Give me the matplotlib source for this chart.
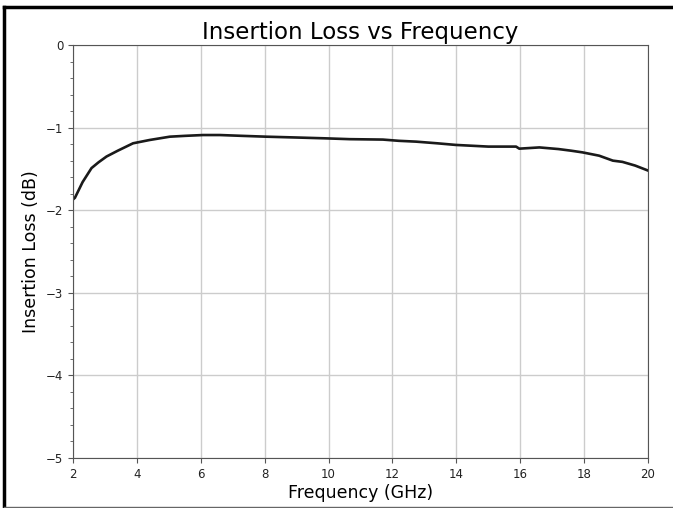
import numpy as np
import matplotlib
matplotlib.use("Agg")
import matplotlib.pyplot as plt
from matplotlib.ticker import MultipleLocator
from matplotlib.lines import Line2D

# values
freq_ghz = [2.0, 2.06, 2.3, 2.58, 2.8, 3.05, 3.4, 3.88, 4.4, 5.03, 5.5, 6.07, 6.6,
            7.3, 8.05, 9.0, 9.9, 10.66, 11.7, 12.2, 12.74, 13.4, 13.99, 14.5,
            15.0, 15.87, 15.97, 16.6, 17.2, 17.6, 17.95, 18.47, 18.9, 19.2,
            19.6, 20.0]
loss_db = [-1.87, -1.85, -1.66, -1.49, -1.42, -1.35, -1.28, -1.19, -1.15, -1.11,
           -1.10, -1.09, -1.09, -1.10, -1.11, -1.12, -1.13, -1.14, -1.145, -1.16,
           -1.17, -1.19, -1.21, -1.22, -1.23, -1.23, -1.255, -1.24, -1.26, -1.28,
           -1.30, -1.34, -1.40, -1.415, -1.46, -1.52]

W, H = 673, 508
fig = plt.figure(figsize=(W / 100, H / 100), dpi=100)
ax = fig.add_axes([73 / W, 1 - 458 / H, (648 - 73) / W, (458 - 45) / H])

ax.plot(freq_ghz, loss_db, color="#1a1a1a", linewidth=1.9)
ax.set_xlim(2, 20)
ax.set_ylim(-5, 0)
ax.set_xticks(np.arange(2, 21, 2))
ax.yaxis.set_major_locator(MultipleLocator(1))
ax.yaxis.set_minor_locator(MultipleLocator(0.2))
ax.grid(True, which="major", color="#cccccc", linewidth=1)

for s in ax.spines.values():
    s.set_color("#555555")
ax.tick_params(colors="#222222", labelsize=8.5, which="both")
ax.tick_params(axis="both", which="both", color="#555555")

ax.set_title("Insertion Loss vs Frequency", fontsize=16.5, pad=4)
ax.set_xlabel("Frequency (GHz)", fontsize=12.5, labelpad=2)
ax.set_ylabel("Insertion Loss (dB)", fontsize=12.5, labelpad=4)

# screenshot frame: black top and left, thin gray bottom
fig.lines.append(Line2D([4 / W, 1], [1 - 7 / H, 1 - 7 / H], transform=fig.transFigure,
                        color="black", linewidth=2.5))
fig.lines.append(Line2D([4 / W, 4 / W], [0, 1 - 7 / H], transform=fig.transFigure,
                        color="black", linewidth=2.5))
fig.lines.append(Line2D([4 / W, 1], [1.5 / H, 1.5 / H], transform=fig.transFigure,
                        color="#666666", linewidth=1))

fig.savefig("out.png", dpi=100)
